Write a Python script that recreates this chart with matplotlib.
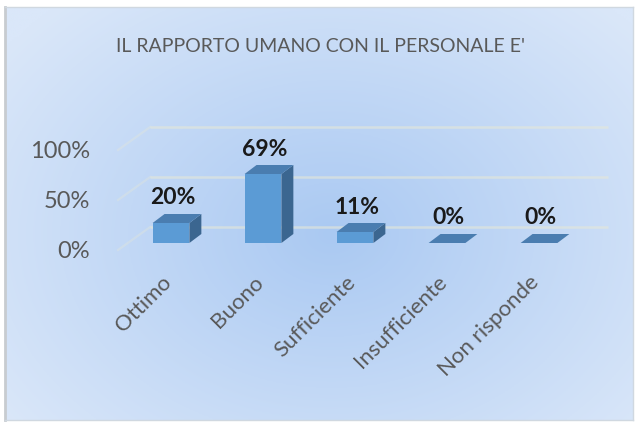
import numpy as np
import matplotlib.pyplot as plt
from matplotlib.patches import Polygon

categories = ['Ottimo', 'Buono', 'Sufficiente', 'Insufficiente', 'Non risponde']
values = [20, 69, 11, 0, 0]
labels = ['20%', '69%', '11%', '0%', '0%']
yticks = [0, 50, 100]
ytick_labels = ['0%', '50%', '100%']
title = "IL RAPPORTO UMANO CON IL PERSONALE E'"

plt.rcParams['font.family'] = ['Lato', 'DejaVu Sans']

fig = plt.figure(figsize=(6.39, 4.24), dpi=100)
fig.patch.set_facecolor('white')

# gradient background of the chart area
bg = fig.add_axes([5/639, 4/424, 628/639, 413/424])
yy, xx = np.mgrid[0:1:200j, 0:1:300j]
r = np.sqrt(((xx - 0.52) / 0.65) ** 2 + ((yy - 0.45) / 0.75) ** 2)
r = np.clip(r, 0, 1)
c_in = np.array([170, 201, 242]) / 255
c_out = np.array([218, 231, 249]) / 255
img = c_in[None, None, :] * (1 - r[..., None]) + c_out[None, None, :] * r[..., None]
bg.imshow(img, aspect='auto', extent=[0, 1, 0, 1], origin='lower')
bg.set_xticks([])
bg.set_yticks([])
for s in bg.spines.values():
    s.set_color('#d0d8e0')
    s.set_linewidth(1)
bg.spines['left'].set_color('#c8ccd0')
bg.spines['left'].set_linewidth(2)

# main axes: x in category units, y in percent
ax = fig.add_axes([0, 0, 1, 1])
ax.patch.set_alpha(0)
ax.set_xlim(-171/92, 468/92)
ax.set_ylim(-181, 243)
ax.axis('off')

DX, DY = 0.13, 9      # depth of the bars
WX = 0.35             # depth of the back wall from the floor front
HALF = 0.2
front_c = '#5b9bd5'
top_c = '#4a7db0'
side_c = '#3b6690'
grid_c = '#e6e8d8'

x_left = -0.576
x_end = 4.75
for v in yticks:
    ax.plot([x_left, x_left + WX], [v - 7, v + 16],
            color=grid_c, lw=1.6, alpha=0.35, zorder=1)
    ax.plot([x_left + WX, x_end], [v + 16, v + 16],
            color=grid_c, lw=1.8, alpha=0.6, zorder=1, solid_capstyle='butt')

for v, t in zip(yticks, ytick_labels):
    ax.text(-0.88, v - 9, t, ha='right', va='center', fontsize=17, color='#595959')

for i, (v, lab) in enumerate(zip(values, labels)):
    x0, x1 = i - HALF, i + HALF
    if v > 0:
        ax.add_patch(Polygon([(x0, 0), (x1, 0), (x1, v), (x0, v)],
                             closed=True, facecolor=front_c, edgecolor='none', zorder=3))
        ax.add_patch(Polygon([(x1, 0), (x1 + DX, DY), (x1 + DX, v + DY), (x1, v)],
                             closed=True, facecolor=side_c, edgecolor='none', zorder=3))
    ax.add_patch(Polygon([(x0, v), (x1, v), (x1 + DX, v + DY), (x0 + DX, v + DY)],
                         closed=True, facecolor=top_c, edgecolor='none', zorder=3))
    ax.text(i + 0.02, v + 25, lab, ha='center', va='center', fontsize=16.5,
            fontweight='bold', color='#1a1a1a', zorder=4)
    ax.text(i - 0.03, -36, categories[i], ha='right', va='center', rotation=45,
            rotation_mode='anchor', fontsize=16, color='#595959')

ax.text(320/92 - 171/92, 243 - 47, title, ha='center', va='center',
        fontsize=14, color='#595959')

fig.savefig('out.png', dpi=100)
